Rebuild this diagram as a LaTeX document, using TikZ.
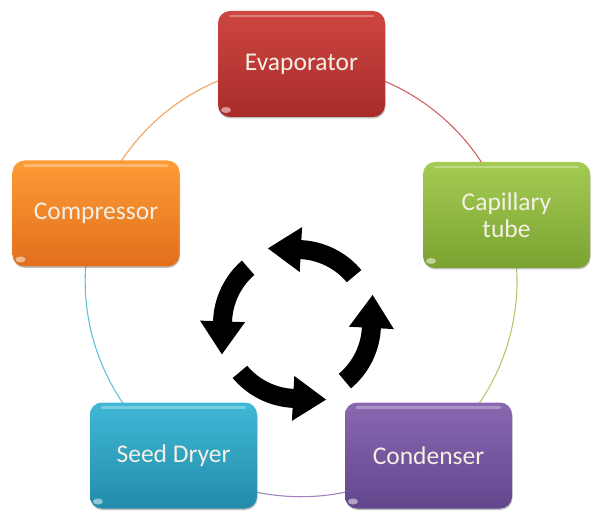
\documentclass[tikz,border=0pt]{standalone}
\usepackage{fontspec}
\setmainfont{Carlito}
\usetikzlibrary{shadows,backgrounds}
\definecolor{redtop}{RGB}{206,70,66}
\definecolor{redbot}{RGB}{168,44,42}
\definecolor{greentop}{RGB}{164,204,84}
\definecolor{greenbot}{RGB}{122,162,48}
\definecolor{purpletop}{RGB}{138,104,178}
\definecolor{purplebot}{RGB}{98,70,140}
\definecolor{bluetop}{RGB}{64,184,214}
\definecolor{bluebot}{RGB}{34,140,170}
\definecolor{orangetop}{RGB}{253,156,54}
\definecolor{orangebot}{RGB}{226,110,28}
\definecolor{redarc}{RGB}{205,100,100}
\definecolor{greenarc}{RGB}{172,204,112}
\definecolor{purplearc}{RGB}{160,130,192}
\definecolor{bluearc}{RGB}{100,190,222}
\definecolor{orangearc}{RGB}{242,164,96}
\definecolor{boxtext}{RGB}{244,240,230}
\begin{document}
\begin{tikzpicture}[x=1pt,y=1pt,
  stagebox/.style={rounded corners=12pt, minimum width=167pt, minimum height=106pt,
    align=center, text=boxtext, font=\fontsize{25.5}{27}\selectfont,
    top color=#1top, bottom color=#1bot,
    drop shadow={shadow xshift=0.5pt, shadow yshift=-1.5pt, opacity=.45, fill=black!55},
    path picture={
      \draw[white, opacity=.3, line width=2.5pt, line cap=round]
        ([xshift=12pt,yshift=-5pt]path picture bounding box.north west) --
        ([xshift=-12pt,yshift=-5pt]path picture bounding box.north east);
      \fill[white, opacity=.5]
        ([xshift=8pt,yshift=7pt]path picture bounding box.south west) ellipse[x radius=5pt, y radius=3pt];
    }},
  cyclearc/.style={line width=1.1pt, draw=#1arc},
  roundarrow/.style={fill=black}
]
\useasboundingbox (0,0) rectangle (592,512);

\node[stagebox=red]    (evap) at (301.5,448) {Evaporator};
\node[stagebox=green]  (cap)  at (506.5,297) {Capillary\\tube};
\node[stagebox=purple] (cond) at (428.5,56.5) {Condenser};
\node[stagebox=blue]   (dry)  at (173.5,56.5) {Seed Dryer};
\node[stagebox=orange] (comp) at (96,298.5) {Compressor};

\begin{pgfonlayer}{background}
\draw[cyclearc=red]    (evap.center) to[bend left=36, looseness=0.94] (cap.center);
\draw[cyclearc=green]  (cap.center)  to[bend left=36, looseness=0.94] (cond.center);
\draw[cyclearc=purple] (cond.center) to[bend left=36, looseness=0.94] (dry.center);
\draw[cyclearc=blue]   (dry.center)  to[bend left=36, looseness=0.94] (comp.center);
\draw[cyclearc=orange] (comp.center) to[bend left=36, looseness=0.94] (evap.center);
\end{pgfonlayer}

\begin{scope}[shift={(297,188)}]
\foreach \a in {40,131,220,310}{
  \pgfmathsetmacro\b{\a+47}
  \pgfmathsetmacro\t{\a+71}
  \fill[roundarrow] (\a:84) arc[start angle=\a, end angle=\b, radius=84]
    -- (\b:97) -- (\t:81) -- (\b:52) -- (\b:65)
    arc[start angle=\b, end angle=\a, radius=65] -- cycle;
}
\end{scope}
\end{tikzpicture}
\end{document}
